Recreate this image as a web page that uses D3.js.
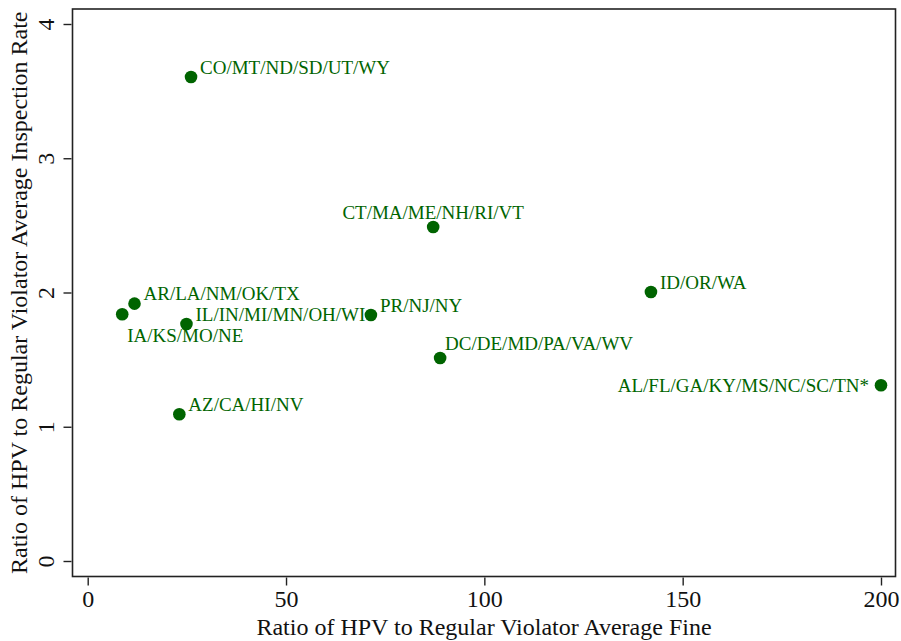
<!DOCTYPE html>
<html>
<head>
<meta charset="utf-8">
<script src="https://cdn.jsdelivr.net/npm/d3@7"></script>
<style>
  body { margin: 0; background: #fff; }
  text { font-family: "Liberation Serif", "Times New Roman", serif; }
</style>
</head>
<body>
<div id="chart"></div>
<script>
// data
var groups = ["CO/MT/ND/SD/UT/WY", "CT/MA/ME/NH/RI/VT", "ID/OR/WA", "AR/LA/NM/OK/TX",
              "IA/KS/MO/NE", "IL/IN/MI/MN/OH/WI", "PR/NJ/NY", "DC/DE/MD/PA/VA/WV",
              "AL/FL/GA/KY/MS/NC/SC/TN*", "AZ/CA/HI/NV"];
var fineRatio = [26.05, 87.1, 142.0, 11.8, 8.7, 24.9, 71.4, 88.85, 200.0, 23.1];
var inspRatio = [3.605, 2.488, 2.004, 1.917, 1.838, 1.765, 1.832, 1.512, 1.309, 1.093];
// marker label clock positions
var labelClock = [2, 12, 2, 2, 5, 2, 2, 1, 9, 2];
var xTicks = [0, 50, 100, 150, 200];
var yTicks = [0, 1, 2, 3, 4];

var width = 901, height = 641;
var green = "#006400";
var serif = "'Liberation Serif', 'Times New Roman', serif";
var frame = {left: 72.5, top: 9, right: 895.5, bottom: 576.5};

var svg = d3.select("#chart").append("svg")
    .attr("width", width)
    .attr("height", height);

var x = d3.scaleLinear().domain([0, 200]).range([87.7, 881]);
var y = d3.scaleLinear().domain([0, 4]).range([561, 24]);

// plot frame
svg.append("rect")
    .attr("x", frame.left).attr("y", frame.top)
    .attr("width", frame.right - frame.left)
    .attr("height", frame.bottom - frame.top)
    .attr("fill", "none")
    .attr("stroke", "#222")
    .attr("stroke-width", 1.6);

// axes
var xAxis = svg.append("g")
    .attr("transform", "translate(0," + (frame.bottom + 1) + ")")
    .call(d3.axisBottom(x).tickValues(xTicks).tickFormat(d3.format("d"))
      .tickSize(8).tickPadding(4).tickSizeOuter(0));
xAxis.attr("font-family", serif).attr("font-size", 24);
xAxis.select(".domain").remove();
xAxis.selectAll(".tick line").attr("stroke", "#222").attr("stroke-width", 1.4);
xAxis.selectAll(".tick text").attr("fill", "#111");

var yAxis = svg.append("g")
    .attr("transform", "translate(" + (frame.left - 1) + ",0)")
    .call(d3.axisLeft(y).tickValues(yTicks).tickFormat(d3.format("d"))
      .tickSize(8).tickSizeOuter(0));
yAxis.attr("font-family", serif).attr("font-size", 24);
yAxis.select(".domain").remove();
yAxis.selectAll(".tick line").attr("stroke", "#222").attr("stroke-width", 1.4);
yAxis.selectAll(".tick text")
    .attr("fill", "#111")
    .attr("text-anchor", "middle")
    .attr("x", null).attr("dy", null)
    .attr("transform", "translate(-18,0) rotate(-90)");

// axis titles
svg.append("text")
    .attr("x", (frame.left + frame.right) / 2)
    .attr("y", 635)
    .attr("text-anchor", "middle")
    .attr("font-family", serif)
    .attr("font-size", 24)
    .attr("fill", "#111")
    .text("Ratio of HPV to Regular Violator Average Fine");

svg.append("text")
    .attr("transform", "translate(27," + ((frame.top + frame.bottom) / 2) + ") rotate(-90)")
    .attr("text-anchor", "middle")
    .attr("font-family", serif)
    .attr("font-size", 24)
    .attr("fill", "#111")
    .text("Ratio of HPV to Regular Violator Average Inspection Rate");

// points
var pts = groups.map(function(g, i) {
  return {name: g, fx: fineRatio[i], iy: inspRatio[i], clock: labelClock[i]};
});

svg.selectAll("circle.pt")
    .data(pts)
    .enter().append("circle")
    .attr("class", "pt")
    .attr("cx", function(d) { return x(d.fx); })
    .attr("cy", function(d) { return y(d.iy); })
    .attr("r", 6.3)
    .attr("fill", green);

function labelOffset(c) {
  if (c === 12) return {dx: 0, dy: -15, anchor: "middle"};
  if (c === 1) return {dx: 5, dy: -15, anchor: "start"};
  if (c === 2) return {dx: 9, dy: -10, anchor: "start"};
  if (c === 5) return {dx: 5, dy: 21, anchor: "start"};
  if (c === 9) return {dx: -12, dy: 0, anchor: "end"};
  return {dx: 9, dy: 0, anchor: "start"};
}

svg.selectAll("text.lbl")
    .data(pts)
    .enter().append("text")
    .attr("class", "lbl")
    .attr("x", function(d) { return x(d.fx) + labelOffset(d.clock).dx; })
    .attr("y", function(d) { return y(d.iy) + labelOffset(d.clock).dy; })
    .attr("dy", "0.35em")
    .attr("text-anchor", function(d) { return labelOffset(d.clock).anchor; })
    .attr("font-family", serif)
    .attr("font-size", 19)
    .attr("fill", green)
    .text(function(d) { return d.name; });
</script>
</body>
</html>
